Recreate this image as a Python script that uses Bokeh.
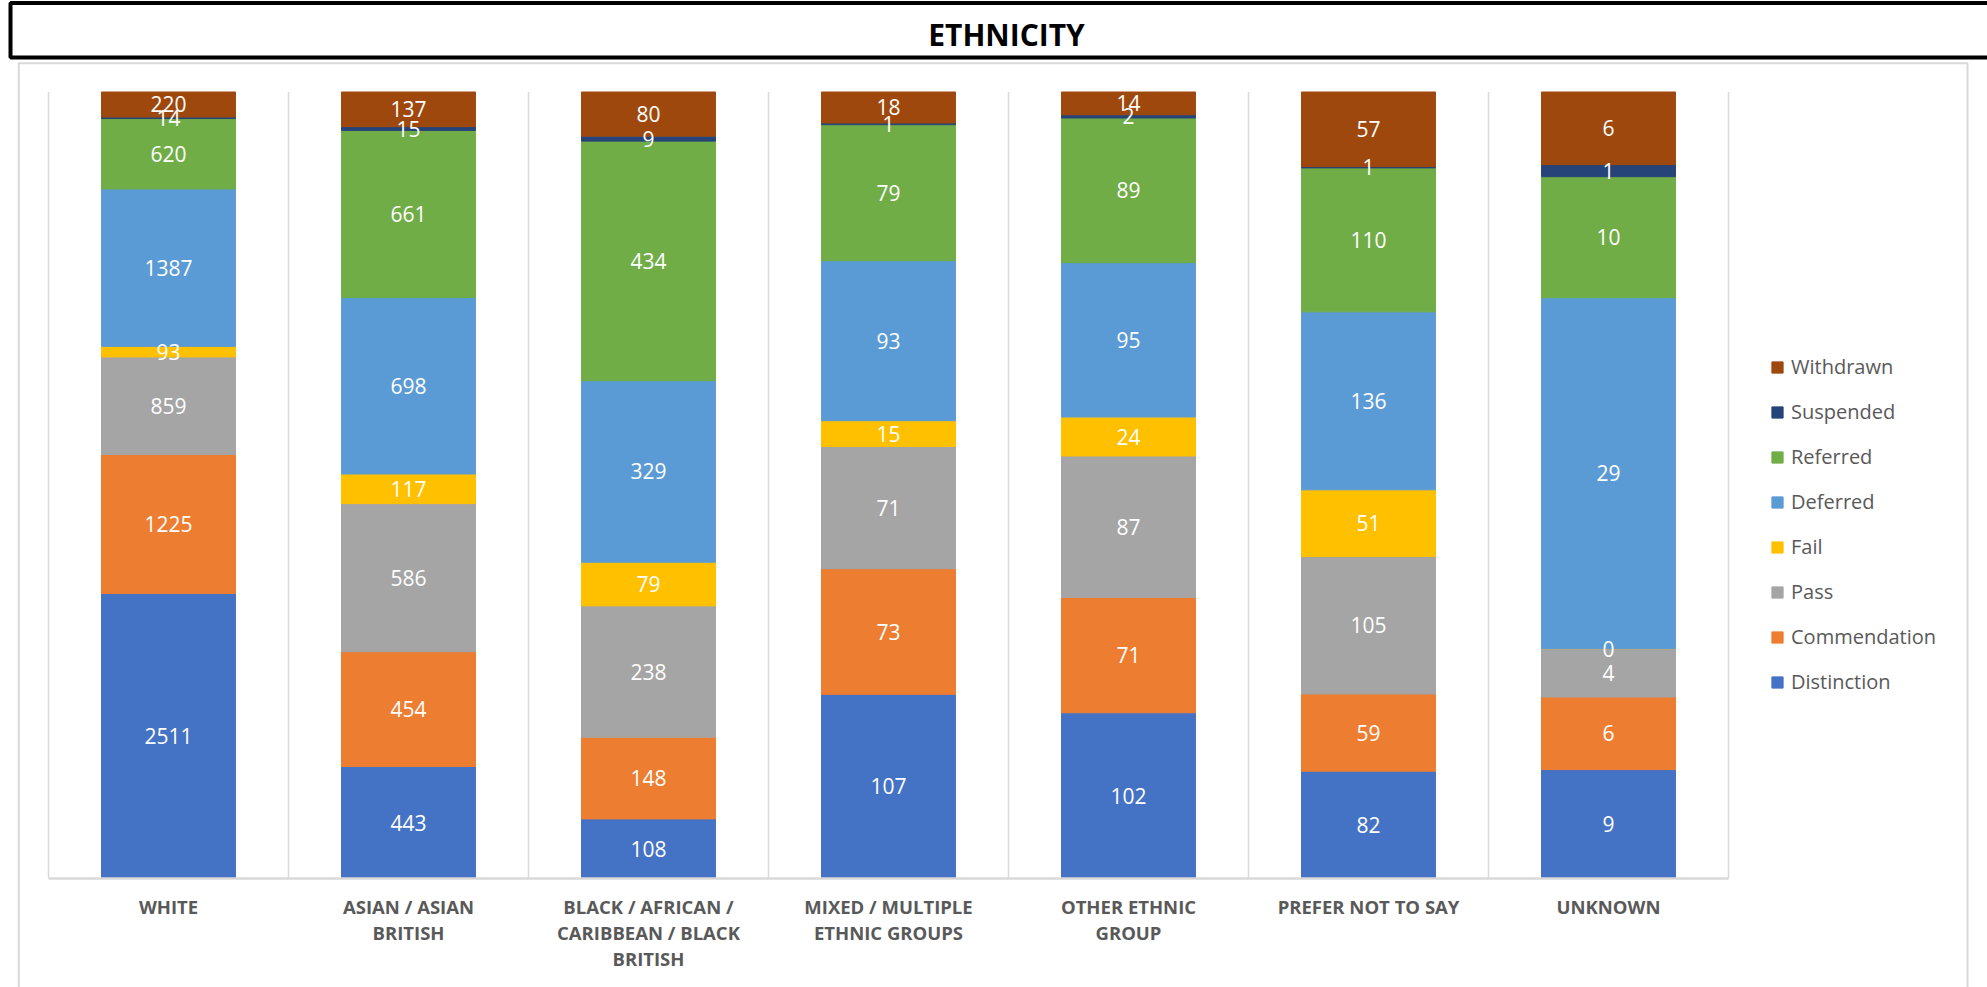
import numpy as np
from bokeh.plotting import figure
from bokeh.models import ColumnDataSource, Legend, LegendItem, Range1d
from bokeh.core.properties import value
from bokeh.embed import file_html
from bokeh.resources import INLINE

# ---------------- data ----------------
categories = ["WHITE", "ASIAN / ASIAN BRITISH", "BLACK / AFRICAN / CARIBBEAN / BLACK BRITISH",
              "MIXED / MULTIPLE ETHNIC GROUPS", "OTHER ETHNIC GROUP", "PREFER NOT TO SAY", "UNKNOWN"]
tick_labels = ["WHITE", "ASIAN / ASIAN\nBRITISH", "BLACK / AFRICAN /\nCARIBBEAN / BLACK\nBRITISH",
               "MIXED / MULTIPLE\nETHNIC GROUPS", "OTHER ETHNIC\nGROUP", "PREFER NOT TO SAY", "UNKNOWN"]

distinction  = [2511, 443, 108, 107, 102, 82, 9]
commendation = [1225, 454, 148, 73, 71, 59, 6]
pass_        = [859, 586, 238, 71, 87, 105, 4]
fail         = [93, 117, 79, 15, 24, 51, 0]
deferred     = [1387, 698, 329, 93, 95, 136, 29]
referred     = [620, 661, 434, 79, 89, 110, 10]
suspended    = [14, 15, 9, 1, 2, 1, 1]
withdrawn    = [220, 137, 80, 18, 14, 57, 6]

series_names = ["Distinction", "Commendation", "Pass", "Fail", "Deferred", "Referred", "Suspended", "Withdrawn"]
series_values = [distinction, commendation, pass_, fail, deferred, referred, suspended, withdrawn]
colors = ["#4472C4", "#ED7D31", "#A5A5A5", "#FFC000", "#5B9BD5", "#70AD47", "#264478", "#9E480E"]

title_text = "ETHNICITY"

# ---------------- layout constants (pixels) ----------------
W, H = 1987, 987
X0_PX, XS = 48.0, 240.0          # x=0 at 48px, 240px per category
Y0_PX, Y1_PX = 878.0, 91.5       # y=0 (bottom) and y=1 (top) of 100% stack
YS = Y0_PX - Y1_PX


def dx(px):
    return (px - X0_PX) / XS


def dy(py):
    return (Y0_PX - py) / YS


n = len(categories)
FONT_NAME = "Open Sans"
FONT = value(FONT_NAME)

p = figure(width=W, height=H, output_backend="svg", toolbar_location=None,
           x_range=Range1d(dx(0), dx(W)), y_range=Range1d(dy(H), dy(0)),
           min_border=0, x_axis_location=None, y_axis_location=None,
           outline_line_color=None, background_fill_color="white", border_fill_color="white")
p.grid.visible = False

# decorative frames: title box and chart box
p.quad(left=[dx(10)], right=[dx(2005)], top=[dy(2.5)], bottom=[dy(57)],
       fill_color=None, line_color="black", line_width=4)
p.quad(left=[dx(18.3)], right=[dx(1967)], top=[dy(62.7)], bottom=[dy(1010)],
       fill_color=None, line_color="#d9d9d9", line_width=2)

p.text(x=[dx(1006)], y=[dy(34)], text=[title_text], text_font=FONT, text_font_style="bold",
       text_font_size="30px", text_color="black", text_align="center", text_baseline="middle")

# category separators (vertical gridlines)
bounds = np.arange(n + 1)
p.segment(x0=bounds, y0=np.zeros(n + 1), x1=bounds, y1=np.ones(n + 1),
          line_color="#d9d9d9", line_width=1.5)

# ---------------- stacked 100% bars ----------------
vals = np.array(series_values, dtype=float)
totals = vals.sum(axis=0)
data = {"x": np.arange(n) + 0.5}
for name, v in zip(series_names, vals):
    data[name] = v / totals
src = ColumnDataSource(data)
rs = p.vbar_stack(series_names, x="x", width=0.558, color=colors, source=src)

# axis line
p.segment(x0=[0], y0=[0], x1=[n], y1=[0], line_color="#d9d9d9", line_width=2.5)

# data labels
lx, ly, lt = [], [], []
cum = np.zeros(n)
for v in vals:
    frac = v / totals
    mid = cum + frac / 2
    cum = cum + frac
    for i in range(n):
        lx.append(i + 0.5)
        ly.append(mid[i])
        lt.append(str(int(v[i])))
lab_src = ColumnDataSource(dict(x=lx, y=ly, t=lt))
p.text(x="x", y="y", text="t", source=lab_src, text_color="white", text_font=FONT,
       text_font_size="21px", text_align="center", text_baseline="middle")

# category labels
p.text(x=np.arange(n) + 0.5, y=[dy(893.5)] * n, text=tick_labels, text_font=FONT,
       text_font_style="bold", text_font_size="18.5px", text_color="#595959",
       text_align="center", text_baseline="top", text_line_height=1.04)

# legend
items = [LegendItem(label=name, renderers=[r]) for name, r in reversed(list(zip(series_names, rs)))]
legend = Legend(items=items, location=(1770, 292), orientation="vertical",
                glyph_width=14, glyph_height=14, label_standoff=7, spacing=18,
                padding=0, margin=0, border_line_color=None, background_fill_alpha=0,
                label_text_font=FONT_NAME, label_text_font_size="20px", label_text_color="#595959",
                label_height=14)
p.add_layout(legend)

open("out.html", "w").write(file_html(p, INLINE))
